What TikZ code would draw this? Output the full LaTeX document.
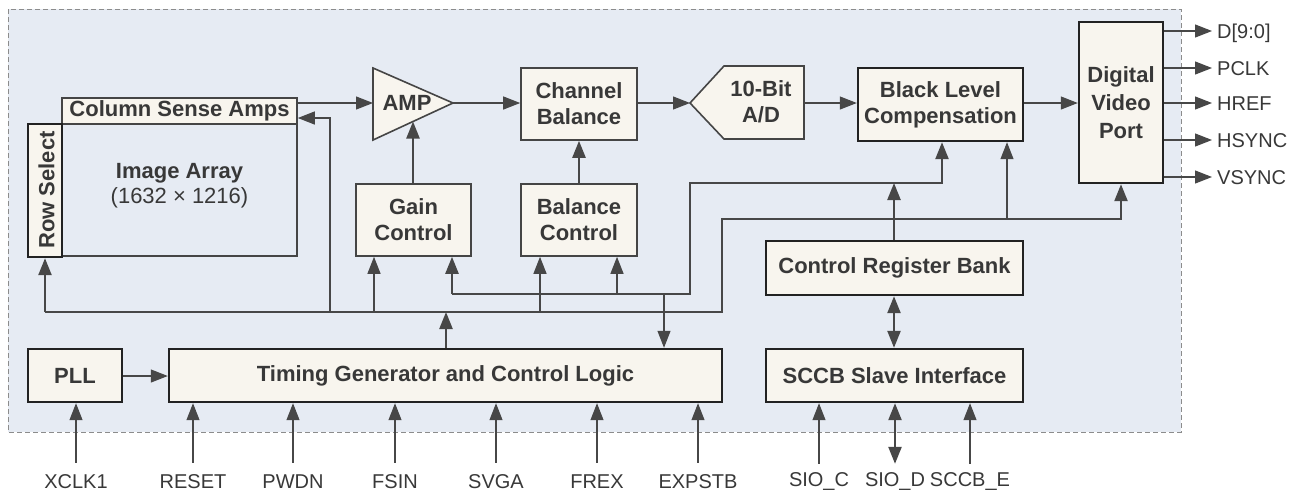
\documentclass[tikz,border=0pt]{standalone}
\usepackage{fontspec}
\setmainfont{Liberation Sans}
\usetikzlibrary{arrows.meta}
\definecolor{bgblue}{HTML}{E6EBF3}
\definecolor{cream}{HTML}{F8F5EE}
\definecolor{edgeA}{HTML}{454545}
\definecolor{edgeB}{HTML}{222222}
\definecolor{linec}{HTML}{474747}
\definecolor{txt}{HTML}{383838}
\definecolor{dashc}{HTML}{8C8C8C}
\tikzset{
  >={Triangle[length=17pt,width=13pt]},
  lbl/.style={font=\fontsize{22}{26}\selectfont\bfseries, text=txt, align=center},
  boxa/.style={draw=edgeA, line width=1.6pt, fill=cream, inner sep=0pt},
  boxb/.style={draw=edgeB, line width=2.4pt, fill=cream, inner sep=0pt},
  wire/.style={draw=linec, line width=1.2pt},
  buswire/.style={draw=linec, line width=2.4pt},
  sig/.style={font=\fontsize{20}{24}\selectfont, text=txt, text height=14pt, text depth=0pt, inner xsep=5pt},
  insig/.style={sig, inner ysep=11pt},
  insigb/.style={sig, inner ysep=8pt},
  outsig/.style={sig, anchor=west, inner ysep=2pt}
}
\begin{document}
\begin{tikzpicture}[x=1pt,y=-1pt]
\useasboundingbox (0,0) rectangle (1303,491);
% chip outline
\fill[bgblue] (8,9) rectangle (1181,432);
\draw[dashc, line width=1pt, dash pattern=on 5pt off 3pt] (8,9) rectangle (1181,432);

% image array block
\node[draw=edgeA, line width=1.6pt, minimum width=235pt, minimum height=132pt, inner sep=0pt] (ia) at (179.5,190) {};
\node[lbl, inner sep=0pt] (iatxt) at (179.5,186) {Image Array\\[-1pt]{\mdseries (1632 × 1216)}};
\node[boxa, lbl, minimum width=235pt, minimum height=26pt] (csa) at (179.5,111) {Column Sense Amps};
\node[boxb, minimum width=34pt, minimum height=133pt] (rowsel) at (45,190.5) {};
\node[lbl, rotate=90, inner sep=0pt] (rowseltxt) at (46.5,190) {Row Select};

% AMP
\draw[edgeA, line width=1.6pt, fill=cream, line join=miter] (373,68) -- (453,103) -- (373,140) -- cycle;
\node[lbl, inner sep=0pt] (amp) at (407,103) {AMP};
\coordinate (ampin) at (373,103);
\coordinate (ampout) at (453,103);
\coordinate (ampbot) at (413,121.5);

% A/D
\draw[edgeA, line width=1.6pt, fill=cream] (690,103) -- (724,66) -- (804,66) -- (804,139) -- (724,139) -- cycle;
\node[lbl, inner sep=0pt] (ad) at (761,102) {10-Bit\\A/D};
\coordinate (adin) at (690,103);
\coordinate (adout) at (804,103);

\node[boxa, lbl, minimum width=115pt, minimum height=72pt] (gain) at (413.5,220) {Gain\\Control};
\node[boxa, lbl, minimum width=116pt, minimum height=72pt] (chbal) at (579,104) {Channel\\Balance};
\node[boxa, lbl, minimum width=116pt, minimum height=72pt] (balctrl) at (579,220) {Balance\\Control};
\node[boxb, lbl, minimum width=165pt, minimum height=73pt] (blc) at (940.5,104.5) {Black Level\\Compensation};
\node[boxb, lbl, minimum width=84pt, minimum height=161pt, font=\fontsize{22}{28}\selectfont\bfseries] (dvp) at (1121,102.5) {Digital\\Video\\Port};
\node[boxb, lbl, minimum width=257pt, minimum height=54pt] (crb) at (894.5,268) {Control Register Bank};
\node[boxb, lbl, minimum width=257pt, minimum height=53pt] (sccb) at (894.5,375.5) {SCCB Slave Interface};
\node[boxb, lbl, minimum width=553pt, minimum height=53pt] (tg) at (445.5,375.5) {Timing Generator and Control Logic};
\node[boxb, lbl, minimum width=94pt, minimum height=53pt] (pll) at (75,375.5) {PLL};

% data path
\draw[wire,->] (csa.east |- ampin) -- (ampin);
\draw[wire,->] (ampout) -- (chbal.west |- ampout);
\draw[wire,->] (chbal.east |- adin) -- (adin);
\draw[wire,->] (adout) -- (blc.west |- adout);
\draw[wire,->] (blc.east |- adout) -- (dvp.west |- adout);
\draw[buswire,->] (gain.north -| ampbot) -- (ampbot);
\draw[buswire,->] (balctrl.north) -- (chbal.south);

% outputs
\node[outsig] (oD) at (1212,31) {D[9:0]};
\node[outsig] (oP) at (1212,68) {PCLK};
\node[outsig] (oHR) at (1212,103) {HREF};
\node[outsig] (oHS) at (1212,140) {HSYNC};
\node[outsig] (oV) at (1212,177) {VSYNC};
\foreach \o in {oD,oP,oHR,oHS,oV}
  \draw[wire,->] (dvp.east |- \o.west) -- (\o.west);

% bus A (y=312)
\coordinate (busAL) at (45,312);
\coordinate (busAR) at (722,312);
\coordinate (busAU) at (722,219);
\draw[buswire,->] (busAL) -- (rowsel.south);
\draw[buswire,->] (busAL) -- (busAR) -- (busAU) -- (busAU -| dvp.south) -- (dvp.south);
\draw[wire,->] (330,312) -- (330,118) -- (csa.east |- 0,118);
\draw[wire,->] (374,312) -- (gain.south -| 374,0);
\draw[wire,->] (540,312) -- (balctrl.south -| 540,0);
\draw[wire,->] (1007,219) -- (blc.south -| 1007,0);
\draw[buswire,->] (tg.north -| 446,0) -- (446,312);

% bus B (y=294)
\coordinate (busBL) at (452,294);
\coordinate (busBR) at (690,294);
\coordinate (busBU) at (690,183);
\coordinate (busBE) at (942,183);
\draw[buswire,->] (busBL) -- (gain.south -| busBL);
\draw[buswire,->] (busBL) -- (busBR) -- (busBU) -- (busBE) -- (blc.south -| busBE);
\draw[wire,->] (617,294) -- (balctrl.south -| 617,0);
\draw[wire,->] (664,294) -- (tg.north -| 664,0);
\draw[buswire,->] (crb.north -| 894,0) -- (894,183);
\draw[buswire,<->] (crb.south -| 894,0) -- (sccb.north -| 894,0);

% PLL -> TG
\draw[wire,->] (pll.east |- 0,376) -- (tg.west |- 0,376);

% inputs
\node[insig] (iX) at (76,481) {XCLK1};
\node[insig] (iR) at (193,481) {RESET};
\node[insig] (iP) at (293,481) {PWDN};
\node[insig] (iF) at (395,481) {FSIN};
\node[insig] (iS) at (496,481) {SVGA};
\node[insig] (iFr) at (597,481) {FREX};
\node[insig] (iE) at (698,481) {EXPSTB};
\node[insigb] (iSC) at (819,479) {SIO\_C};
\node[insigb] (iSD) at (895,479) {SIO\_D};
\node[insigb] (iSE) at (970,479) {SCCB\_E};
\draw[wire,->] (iX.north) -- (iX.north |- pll.south);
\foreach \i in {iR,iP,iF,iS,iFr,iE}
  \draw[wire,->] (\i.north) -- (\i.north |- tg.south);
\draw[wire,->] (iSC.north) -- (iSC.north |- sccb.south);
\draw[wire,->] (iSE.north) -- (iSE.north |- sccb.south);
\draw[buswire,<->] (iSD.north) -- (iSD.north |- sccb.south);
\end{tikzpicture}
\end{document}
